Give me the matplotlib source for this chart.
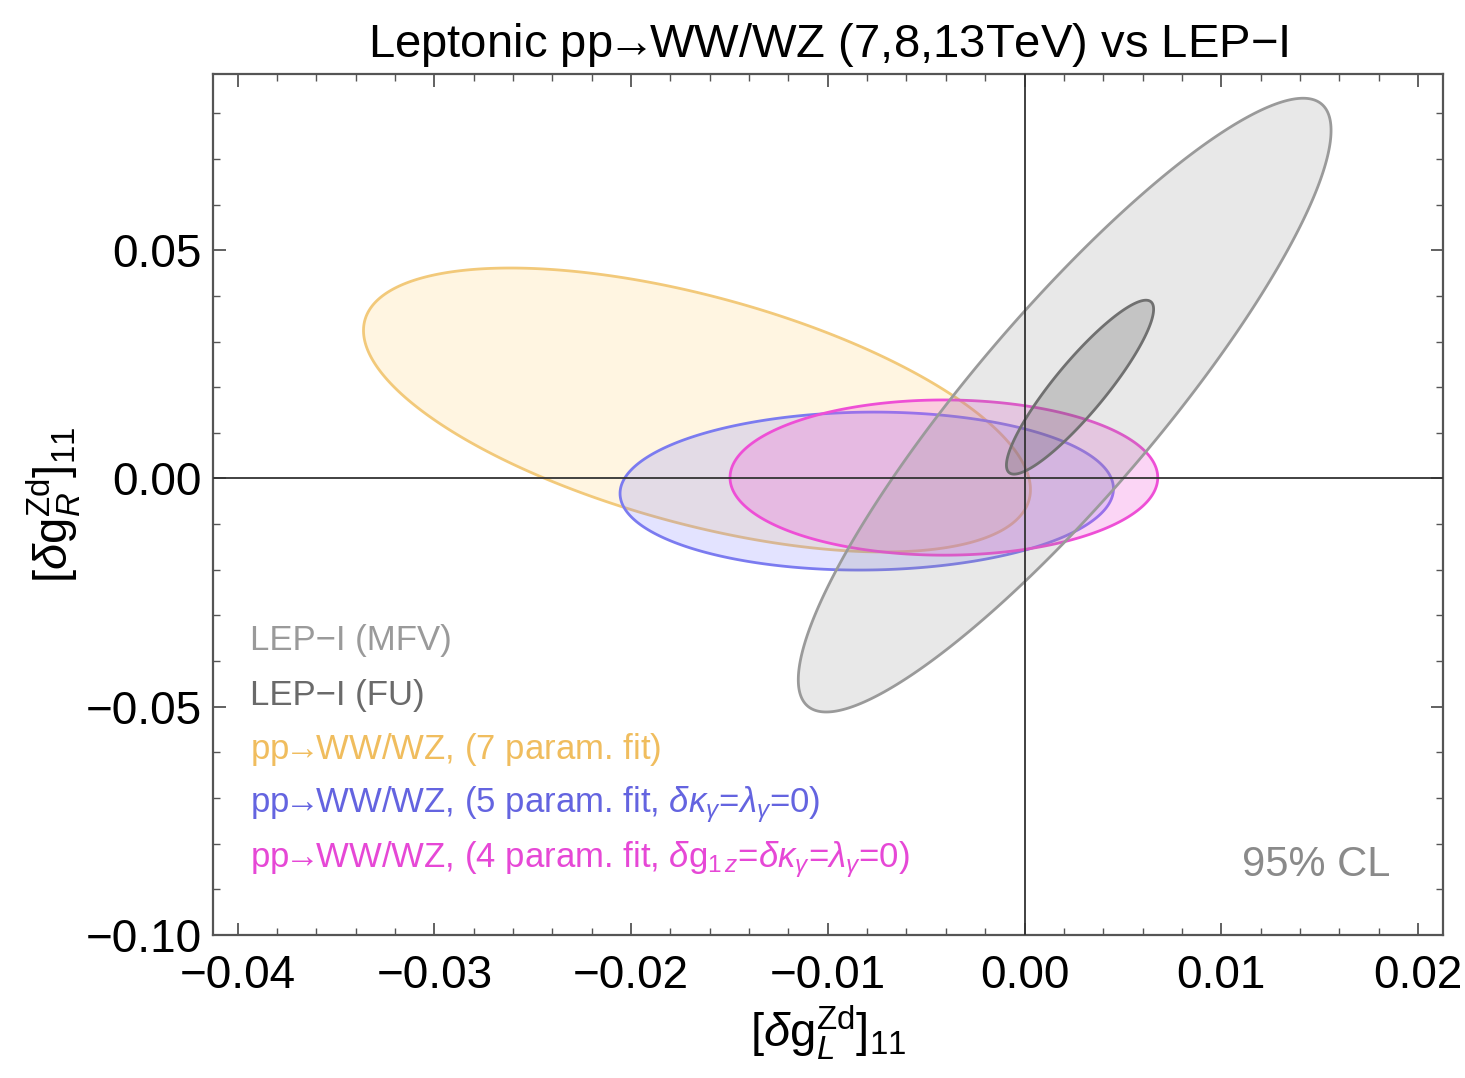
import numpy as np
import matplotlib
matplotlib.use("Agg")
import matplotlib.pyplot as plt

plt.rcParams['font.family'] = ['Liberation Sans', 'DejaVu Sans']
plt.rcParams['mathtext.fontset'] = 'custom'
plt.rcParams['mathtext.rm'] = 'Liberation Sans'
plt.rcParams['mathtext.it'] = 'Liberation Sans:italic'
plt.rcParams['mathtext.bf'] = 'Liberation Sans:bold'

# ---- data: 95% CL contours as (centre x, centre y, half-extent x, half-extent y, correlation)
names = ["LEP-I (MFV)", "LEP-I (FU)", "7 param", "5 param", "4 param"]
cx = [0.00204, 0.00282, -0.01665, -0.00802, -0.0041]
cy = [0.01607, 0.0200, 0.0150, -0.00276, 0.0002]
ax_half = [0.01354, 0.00374, 0.01695, 0.01254, 0.01087]
ay_half = [0.06722, 0.01905, 0.0311, 0.0173, 0.0170]
rho = [0.895, 0.896, -0.56, 0.03, 0.0]

ARROW = r"$\!\!\rightarrow\!\!$"
legend_labels = [
    "LEP\u2212I (MFV)",
    "LEP\u2212I (FU)",
    "pp" + ARROW + "WW/WZ, (7 param. fit)",
    "pp" + ARROW + r"WW/WZ, (5 param. fit, $\delta\kappa_\gamma$=$\lambda_\gamma$=0)",
    "pp" + ARROW + r"WW/WZ, (4 param. fit, $\delta$g$_{1\,z}$=$\delta\kappa_\gamma$=$\lambda_\gamma$=0)",
]
x_ticks = [-0.04, -0.03, -0.02, -0.01, 0.00, 0.01, 0.02]
y_ticks = [-0.10, -0.05, 0.00, 0.05]

face_cols = [(0.55, 0.55, 0.55, 0.20), (0.35, 0.35, 0.35, 0.25),
             (1.0, 0.80, 0.35, 0.18), (0.45, 0.45, 1.0, 0.20), (0.95, 0.35, 0.85, 0.25)]
edge_cols = ["#9a9a9a", "#707070", "#f2c97a", "#7b7bf0", "#ee4fd6"]
text_cols = ["#9a9a9a", "#6a6a6a", "#f0bd5e", "#6464e0", "#e648d6"]

fig = plt.figure(figsize=(14.65, 10.78), dpi=100)
ax = fig.add_axes([213/1465, 1-935/1078, 1230/1465, 861/1078])

t = np.linspace(0, 2*np.pi, 400)
order = [2, 3, 4, 0, 1]
for i in order:
    xs = cx[i] + ax_half[i]*np.cos(t)
    ys = cy[i] + ay_half[i]*(rho[i]*np.cos(t) + np.sqrt(1-rho[i]**2)*np.sin(t))
    ax.fill(xs, ys, facecolor=face_cols[i], edgecolor=edge_cols[i], linewidth=2.0, zorder=2)

ax.axhline(0, color="#333333", lw=1.3, zorder=3)
ax.axvline(0, color="#333333", lw=1.3, zorder=3)

ax.set_xticks(x_ticks)
ax.set_yticks(y_ticks)
ax.set_xticklabels([f"{v:.2f}".replace("-", "\u2212") for v in x_ticks])
ax.set_yticklabels([f"{v:.2f}".replace("-", "\u2212") for v in y_ticks])
ax.set_xticks(np.arange(-0.04, 0.0201, 0.002), minor=True)
ax.set_yticks(np.arange(-0.10, 0.0801, 0.01), minor=True)
ax.set_xlim(-0.04125, 0.02127)
ax.set_ylim(-0.10, 0.0886)
ax.tick_params(which='both', direction='in', top=True, right=True, color="#555555")
ax.tick_params(which='major', length=9, width=1.3, labelsize=33, pad=8)
ax.tick_params(axis='x', which='major', pad=14)
ax.tick_params(which='minor', length=5, width=1.0)
for s in ax.spines.values():
    s.set_color("#555555")
    s.set_linewidth(1.6)

ax.set_xlabel(r"[$\delta$g$_{L}^{\rm Zd}$]$_{11}$", fontsize=34, labelpad=4)
ax.set_ylabel(r"[$\delta$g$_{R}^{\rm Zd}$]$_{11}$", fontsize=34, labelpad=2)
ax.set_title("Leptonic pp" + ARROW + "WW/WZ (7,8,13TeV) vs LEP\u2212I", fontsize=34, pad=12)

ys_leg = [0.3415, 0.2787, 0.2149, 0.151, 0.0871]
for lab, col, yy in zip(legend_labels, text_cols, ys_leg):
    ax.text(0.030, yy, lab, transform=ax.transAxes, color=col, fontsize=25,
            va='center', ha='left', zorder=5)
ax.text(0.957, 0.0813, "95% CL", transform=ax.transAxes, color="#8a8a8a",
        fontsize=30, va='center', ha='right', zorder=5)

fig.savefig("out.png", dpi=100)
